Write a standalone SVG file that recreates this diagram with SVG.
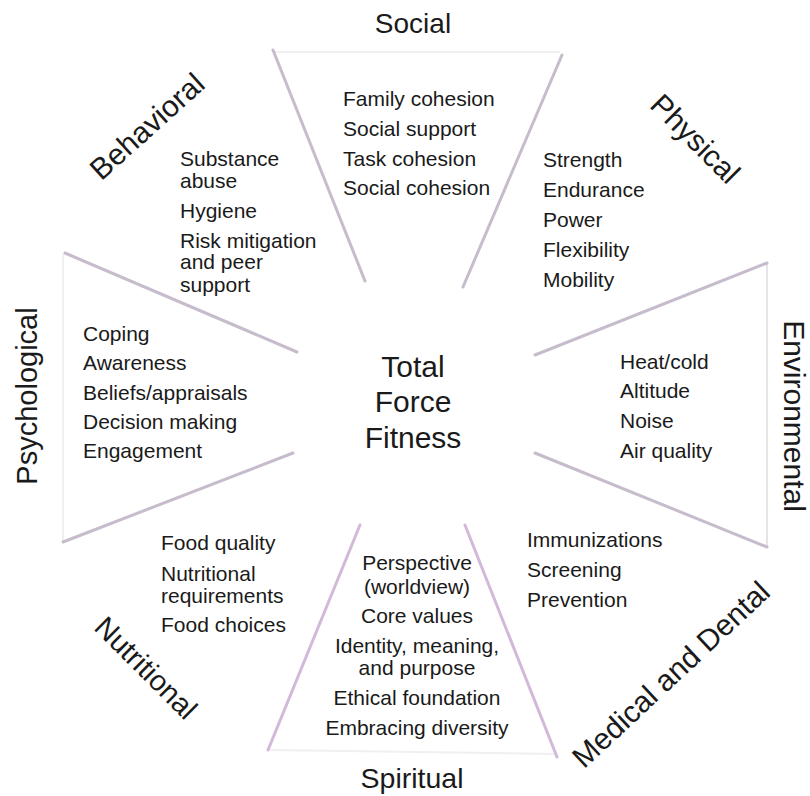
<svg xmlns="http://www.w3.org/2000/svg" width="810" height="796" viewBox="0 0 810 796">
<style>
  text { font-family: "Liberation Sans", Arial, Helvetica, sans-serif; fill: #1a1a1a; }
  .item { font-size: 21px; }
  .title { font-size: 30px; }
  .center { font-size: 30px; text-anchor: middle; }
  .div { stroke: #c6bccb; stroke-width: 3; stroke-linecap: round; fill: none; }
  .spir { stroke: #d2b9da; }
  .edge { stroke: #f0eff2; stroke-width: 2; fill: none; }
  .edge2 { stroke: #e6e4e9; stroke-width: 2; fill: none; }
</style>
<rect width="810" height="796" fill="#ffffff"/>

<g id="connectors">
  <line class="edge" x1="275" y1="52" x2="560" y2="52"/>
  <line class="edge2" x1="767" y1="264" x2="767" y2="546"/>
  <line class="edge" x1="63" y1="254" x2="63" y2="541"/>
  <line class="edge" x1="270" y1="750" x2="555" y2="754"/>
  <line class="div" x1="273" y1="50" x2="365" y2="281"/>
  <line class="div" x1="562" y1="55" x2="463" y2="287"/>
  <line class="div" x1="65" y1="253" x2="297" y2="352"/>
  <line class="div" x1="293" y1="453" x2="63" y2="542"/>
  <line class="div" x1="535" y1="355" x2="767" y2="263"/>
  <line class="div" x1="535" y1="453" x2="767" y2="547"/>
  <line class="div spir" x1="360" y1="525" x2="268" y2="750"/>
  <line class="div spir" x1="465" y1="525" x2="557" y2="757"/>
</g>

<g id="center">
  <text class="center" x="413" y="377">Total</text>
  <text class="center" x="413" y="412">Force</text>
  <text class="center" x="413" y="448">Fitness</text>
</g>

<g id="social">
  <text class="title" x="413" y="33" text-anchor="middle" style="font-size:28px">Social</text>
  <text class="item" x="343" y="106">Family cohesion</text>
  <text class="item" x="343" y="136">Social support</text>
  <text class="item" x="343" y="166">Task cohesion</text>
  <text class="item" x="343" y="195">Social cohesion</text>
</g>

<g id="physical">
  <text class="title" text-anchor="middle" transform="translate(688,146) rotate(45)">Physical</text>
  <text class="item" x="543" y="167">Strength</text>
  <text class="item" x="543" y="197">Endurance</text>
  <text class="item" x="543" y="227">Power</text>
  <text class="item" x="543" y="257">Flexibility</text>
  <text class="item" x="543" y="287">Mobility</text>
</g>

<g id="environmental">
  <text class="title" text-anchor="middle" style="font-size:30px" transform="translate(784,416) rotate(90)">Environmental</text>
  <text class="item" x="620" y="369">Heat/cold</text>
  <text class="item" x="620" y="398">Altitude</text>
  <text class="item" x="620" y="428">Noise</text>
  <text class="item" x="620" y="458">Air quality</text>
</g>

<g id="medical">
  <text class="title" text-anchor="middle" transform="translate(678,682) rotate(-43)">Medical and Dental</text>
  <text class="item" x="527" y="547">Immunizations</text>
  <text class="item" x="527" y="577">Screening</text>
  <text class="item" x="527" y="607">Prevention</text>
</g>

<g id="spiritual">
  <text class="title" x="412" y="788" text-anchor="middle" style="font-size:28.5px">Spiritual</text>
  <text class="item" x="417" y="570" text-anchor="middle">Perspective</text>
  <text class="item" x="417" y="594" text-anchor="middle">(worldview)</text>
  <text class="item" x="417" y="623" text-anchor="middle">Core values</text>
  <text class="item" x="417" y="653" text-anchor="middle">Identity, meaning,</text>
  <text class="item" x="417" y="675" text-anchor="middle">and purpose</text>
  <text class="item" x="417" y="705" text-anchor="middle">Ethical foundation</text>
  <text class="item" x="417" y="735" text-anchor="middle">Embracing diversity</text>
</g>

<g id="nutritional">
  <text class="title" text-anchor="middle" style="font-size:29px" transform="translate(139,675) rotate(45)">Nutritional</text>
  <text class="item" x="161" y="550">Food quality</text>
  <text class="item" x="161" y="581">Nutritional</text>
  <text class="item" x="161" y="603">requirements</text>
  <text class="item" x="161" y="632">Food choices</text>
</g>

<g id="psychological">
  <text class="title" text-anchor="middle" style="font-size:29px" transform="translate(37,396) rotate(-90)">Psychological</text>
  <text class="item" x="83" y="341">Coping</text>
  <text class="item" x="83" y="370">Awareness</text>
  <text class="item" x="83" y="400">Beliefs/appraisals</text>
  <text class="item" x="83" y="429">Decision making</text>
  <text class="item" x="83" y="458">Engagement</text>
</g>

<g id="behavioral">
  <text class="title" text-anchor="middle" transform="translate(154,134) rotate(-42)">Behavioral</text>
  <text class="item" x="180" y="166">Substance</text>
  <text class="item" x="180" y="188">abuse</text>
  <text class="item" x="180" y="218">Hygiene</text>
  <text class="item" x="180" y="248">Risk mitigation</text>
  <text class="item" x="180" y="269">and peer</text>
  <text class="item" x="180" y="292">support</text>
</g>
</svg>
